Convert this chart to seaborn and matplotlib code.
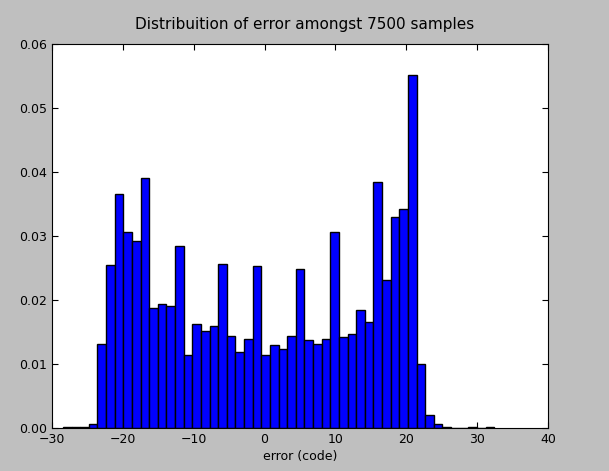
import numpy as np
import pandas as pd
import matplotlib
matplotlib.use("Agg")
import matplotlib.pyplot as plt
import seaborn as sns

# histogram: 50 bins
bin_start = -28.45
bin_width = 1.217
heights = [0.0002, 0.0001, 0.0001, 0.0007, 0.0131, 0.0254, 0.0365, 0.0307, 0.0292, 0.0390,
           0.0187, 0.0193, 0.0190, 0.0284, 0.0114, 0.0162, 0.0151, 0.0159, 0.0256, 0.0143,
           0.0118, 0.0139, 0.0253, 0.0114, 0.0129, 0.0124, 0.0143, 0.0248, 0.0137, 0.0131,
           0.0139, 0.0307, 0.0142, 0.0147, 0.0184, 0.0165, 0.0384, 0.0231, 0.0329, 0.0342,
           0.0551, 0.0100, 0.0020, 0.0007, 0.0001, 0.0, 0.0, 0.0001, 0.0, 0.0001]

n = len(heights)
bin_end = bin_start + bin_width * n
centers = bin_start + bin_width * (np.arange(n) + 0.5)
df = pd.DataFrame({"err": centers, "w": heights})

sns.set_style("ticks")
plt.rcParams["text.color"] = "black"
plt.rcParams["axes.labelcolor"] = "black"
fig = plt.figure(figsize=(6.09, 4.71), dpi=100, facecolor="#bfbfbf")
ax = fig.add_axes([52 / 609, 1 - 428 / 471, 496 / 609, 384 / 471])
sns.histplot(data=df, x="err", weights="w", bins=n, binrange=(bin_start, bin_end),
             stat="count", color="#0000ff", edgecolor="black", linewidth=1, alpha=1, ax=ax)

ax.set_xlim(-30, 40)
ax.set_ylim(0, 0.06)
ax.set_xticks(range(-30, 41, 10))
ax.set_yticks(np.arange(0, 0.061, 0.01))
ax.yaxis.set_major_formatter(matplotlib.ticker.FormatStrFormatter("%.2f"))
ax.tick_params(direction="in", top=True, right=True, length=4, labelsize=9, colors="black")
for s in ax.spines.values():
    s.set_visible(True)
    s.set_color("black")
ax.set_facecolor("white")
ax.set_ylabel("")
ax.set_xlabel("error (code)", fontsize=9, labelpad=3, color="black")
fig.text(0.5, 1 - 24 / 471, "Distribuition of error amongst 7500 samples",
         ha="center", va="center", fontsize=11, color="black")

fig.savefig("out.png", dpi=100, facecolor=fig.get_facecolor())
